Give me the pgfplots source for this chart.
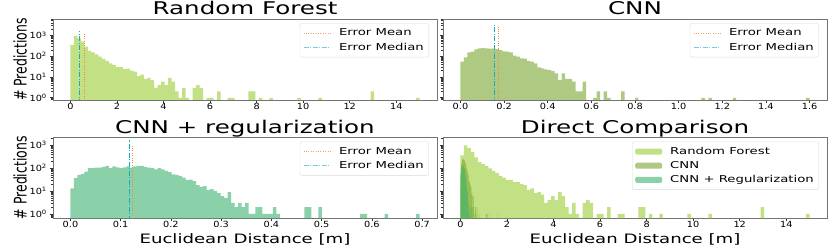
\documentclass[border=0pt]{standalone}
\usepackage{fontspec}
\setmainfont[FakeStretch=1.4]{DejaVu Sans}
\newfontfamily\plainfont{DejaVu Sans}
\newfontfamily\tickfont[FakeStretch=1.15]{DejaVu Sans}
\usepackage{graphicx}
\usepackage{pgfplots}
\usepackage{pgfplotstable}
\pgfplotsset{compat=1.18}

\definecolor{rfc}{RGB}{154,205,50}
\definecolor{cnnc}{RGB}{120,165,45}
\definecolor{regc}{RGB}{60,179,113}
\definecolor{meanc}{RGB}{240,140,60}
\definecolor{medc}{RGB}{25,170,195}

\pgfplotstableread{
x y
0.075 350
0.225 940
0.375 720
0.525 500
0.675 290
0.825 180
0.975 150
1.125 120
1.275 95
1.425 74
1.575 60
1.725 45
1.875 38
2.025 30
2.175 30
2.325 24
2.475 25
2.625 20
2.775 18
2.925 11
3.075 13
3.225 8
3.375 9
3.525 7
3.675 3
3.825 4
3.975 6
4.125 4
4.275 9
4.425 6
4.575 2
4.725 1
4.875 3
5.025 1
5.325 3
5.475 4
5.625 3
5.925 1
6.075 1
6.375 2
6.825 1
6.975 1
7.725 2
7.875 2
8.175 1
8.625 1
9.825 1
10.725 1
12.975 2
14.925 1
}\rfdata

\pgfplotstableread{
x y
0.008 54
0.024 87
0.040 150
0.056 163
0.072 210
0.088 235
0.104 240
0.120 238
0.136 230
0.152 228
0.168 215
0.184 195
0.200 170
0.216 165
0.232 150
0.248 105
0.264 94
0.280 78
0.296 76
0.312 60
0.328 54
0.344 45
0.360 29
0.376 26
0.392 23
0.408 21
0.424 19
0.440 15
0.456 7
0.472 15
0.488 8
0.504 8
0.520 6
0.536 2
0.552 2
0.568 6
0.616 1
0.632 2
0.664 2
0.680 1
0.744 2
0.808 1
1.112 1
1.144 1
1.256 1
1.592 1
}\cnndata

\pgfplotstableread{
x y
0.0035 13
0.0104 36
0.0174 50
0.0243 55
0.0313 69
0.0382 97
0.0452 97
0.0521 103
0.0591 103
0.0660 110
0.0730 122
0.0799 97
0.0869 116
0.0938 105
0.1008 97
0.1077 105
0.1147 116
0.1216 103
0.1286 116
0.1355 122
0.1425 122
0.1494 110
0.1564 103
0.1633 97
0.1703 87
0.1772 97
0.1842 87
0.1911 74
0.1981 65
0.2050 53
0.2120 50
0.2189 45
0.2259 38
0.2328 30
0.2398 31
0.2467 27
0.2537 18
0.2606 15
0.2676 16
0.2745 11
0.2815 12
0.2884 10
0.2954 8
0.3023 6
0.3093 5
0.3162 9
0.3232 3
0.3301 2
0.3371 3
0.3440 2
0.3510 3
0.3579 1
0.3649 1
0.3718 2
0.3788 2
0.3857 1
0.3927 1
0.3996 1
0.4066 2
0.4135 1
0.4691 2
0.4761 2
0.4969 2
0.5803 1
0.5873 1
0.6290 1
0.6915 1
}\regdata

\newcommand{\ylab}{\plainfont\fontsize{12.5}{14}\selectfont\scalebox{1}[1.4]{\# Predictions}}
\newcommand{\lfont}{\fontsize{9.5}{11}\selectfont}

\pgfplotsset{
  every axis/.append style={
    scale only axis, width=384bp, height=81bp,
    tick align=outside, tick pos=left,
    major tick length=3bp, minor tick length=1.8bp,
    axis line style={draw=black!55, line width=0.6bp},
    tick style={black!80, line width=0.6bp},
    tick label style={font=\tickfont\fontsize{8.5}{10}\selectfont},
    xticklabel style={inner sep=0bp},
    yticklabel style={inner sep=3bp},
    every axis title shift=0pt,
    title style={at={(axis description cs:0.5,1)}, anchor=base, yshift=4bp,
      font=\fontsize{17.6}{20}\selectfont},
    xlabel style={at={(axis description cs:0.5,0)}, anchor=base, yshift=-25.3bp,
      font=\fontsize{13}{15}\selectfont},
    ylabel style={at={(axis description cs:-0.0859,0.5)}, anchor=center},
    legend cell align=left,
    legend style={at={(1,1)}, anchor=north east, xshift=-8bp, yshift=-4.3bp,
      draw=black!15, rounded corners=2bp, fill=white, font=\lfont,
      inner xsep=3bp, inner ysep=3.5bp, row sep=1.5bp, column sep=6bp,
      nodes={inner sep=2bp}},
  },
  meanleg/.style={legend image code/.code={\draw[meanc!80, line width=0.9bp, dash pattern=on 1bp off 1.4bp] (0bp,0bp) -- (27bp,0bp);}},
  medleg/.style={legend image code/.code={\draw[medc!60, line width=1.1bp, dash pattern=on 5bp off 1.5bp on 1bp off 1.5bp] (0bp,0bp) -- (27bp,0bp);}},
  rfleg/.style={legend image code/.code={\fill[rfc, fill opacity=0.6] (0bp,-3bp) rectangle (27bp,3bp);}},
  cnnleg/.style={legend image code/.code={\fill[cnnc, fill opacity=0.6] (0bp,-3bp) rectangle (27bp,3bp);}},
  regleg/.style={legend image code/.code={\fill[regc, fill opacity=0.6] (0bp,-3bp) rectangle (27bp,3bp);}},
}

\begin{document}
\begin{tikzpicture}
\useasboundingbox (0,0) rectangle (831bp,248bp);

\begin{axis}[at={(53bp,148bp)}, anchor=south west,
  ymode=log, log origin y=infty, ymin=0.78, ymax=6100,
  ytick={1,10,100,1000},
  minor ytick={0.8,0.9,2,3,4,5,6,7,8,9,20,30,40,50,60,70,80,90,200,300,400,500,600,700,800,900,2000,3000,4000,5000,6000},
  yticklabels={10\textsuperscript{0},10\textsuperscript{1},10\textsuperscript{2},10\textsuperscript{3}},
  ylabel={\ylab},
  title={Random Forest},
  xmin=-0.75, xmax=15.75,
  xtick={0,2,4,6,8,10,12,14}, xticklabels={0,2,4,6,8,10,12,14}]
\addplot[ybar, bar shift=0pt, bar width=0.15, draw=none, fill=rfc, fill opacity=0.6, forget plot] table[x=x,y=y]{\rfdata};
\addplot[meanc, line width=0.9bp, dash pattern=on 1bp off 1.4bp, meanleg] coordinates {(0.62,0.5) (0.62,1170)};
\addlegendentry{Error Mean}
\addplot[medc, line width=0.9bp, dash pattern=on 5bp off 1.5bp on 1bp off 1.5bp, medleg] coordinates {(0.378,0.5) (0.378,1690)};
\addlegendentry{Error Median}
\end{axis}

\begin{axis}[at={(443bp,148bp)}, anchor=south west,
  ymode=log, log origin y=infty, ymin=0.78, ymax=6100,
  ytick={1,10,100,1000},
  minor ytick={0.8,0.9,2,3,4,5,6,7,8,9,20,30,40,50,60,70,80,90,200,300,400,500,600,700,800,900,2000,3000,4000,5000,6000},
  yticklabels={},
  title={CNN},
  xmin=-0.08, xmax=1.68,
  xtick={0,0.2,0.4,0.6,0.8,1.0,1.2,1.4,1.6},
  xticklabels={0.0,0.2,0.4,0.6,0.8,1.0,1.2,1.4,1.6}]
\addplot[ybar, bar shift=0pt, bar width=0.016, draw=none, fill=cnnc, fill opacity=0.6, forget plot] table[x=x,y=y]{\cnndata};
\addplot[meanc, line width=0.9bp, dash pattern=on 1bp off 1.4bp, meanleg] coordinates {(0.173,0.5) (0.173,2640)};
\addlegendentry{Error Mean}
\addplot[medc, line width=0.9bp, dash pattern=on 5bp off 1.5bp on 1bp off 1.5bp, medleg] coordinates {(0.155,0.5) (0.155,3800)};
\addlegendentry{Error Median}
\end{axis}

\begin{axis}[at={(53bp,29.7bp)}, anchor=south west,
  ymode=log, log origin y=infty, ymin=0.65, ymax=2130,
  ytick={1,10,100,1000},
  minor ytick={0.7,0.8,0.9,2,3,4,5,6,7,8,9,20,30,40,50,60,70,80,90,200,300,400,500,600,700,800,900,2000},
  yticklabels={10\textsuperscript{0},10\textsuperscript{1},10\textsuperscript{2},10\textsuperscript{3}},
  ylabel={\ylab},
  title={CNN + regularization}, xlabel={Euclidean Distance [m]},
  xmin=-0.03475, xmax=0.72975,
  xtick={0,0.1,0.2,0.3,0.4,0.5,0.6,0.7},
  xticklabels={0.0,0.1,0.2,0.3,0.4,0.5,0.6,0.7}]
\addplot[ybar, bar shift=0pt, bar width=0.00695, draw=none, fill=regc, fill opacity=0.6, forget plot] table[x=x,y=y]{\regdata};
\addplot[meanc, line width=0.9bp, dash pattern=on 1bp off 1.4bp, meanleg] coordinates {(0.124,0.5) (0.124,1070)};
\addlegendentry{Error Mean}
\addplot[medc, line width=0.9bp, dash pattern=on 5bp off 1.5bp on 1bp off 1.5bp, medleg] coordinates {(0.117,0.5) (0.117,1650)};
\addlegendentry{Error Median}
\end{axis}

\begin{axis}[at={(443bp,29.7bp)}, anchor=south west,
  ymode=log, log origin y=infty, ymin=0.65, ymax=2130,
  ytick={1,10,100,1000},
  minor ytick={0.7,0.8,0.9,2,3,4,5,6,7,8,9,20,30,40,50,60,70,80,90,200,300,400,500,600,700,800,900,2000},
  yticklabels={},
  title={Direct Comparison}, xlabel={Euclidean Distance [m]},
  xmin=-0.75, xmax=15.75,
  xtick={0,2,4,6,8,10,12,14}, xticklabels={0,2,4,6,8,10,12,14}]
\addplot[ybar, bar shift=0pt, bar width=0.15, draw=none, fill=rfc, fill opacity=0.6, rfleg] table[x=x,y=y]{\rfdata};
\addlegendentry{Random Forest}
\addplot[ybar, bar shift=0pt, bar width=0.016, draw=none, fill=cnnc, fill opacity=0.6, cnnleg] table[x=x,y=y]{\cnndata};
\addlegendentry{CNN}
\addplot[ybar, bar shift=0pt, bar width=0.00695, draw=none, fill=regc, fill opacity=0.6, regleg] table[x=x,y=y]{\regdata};
\addlegendentry{CNN + Regularization}
\end{axis}
\end{tikzpicture}
\end{document}
